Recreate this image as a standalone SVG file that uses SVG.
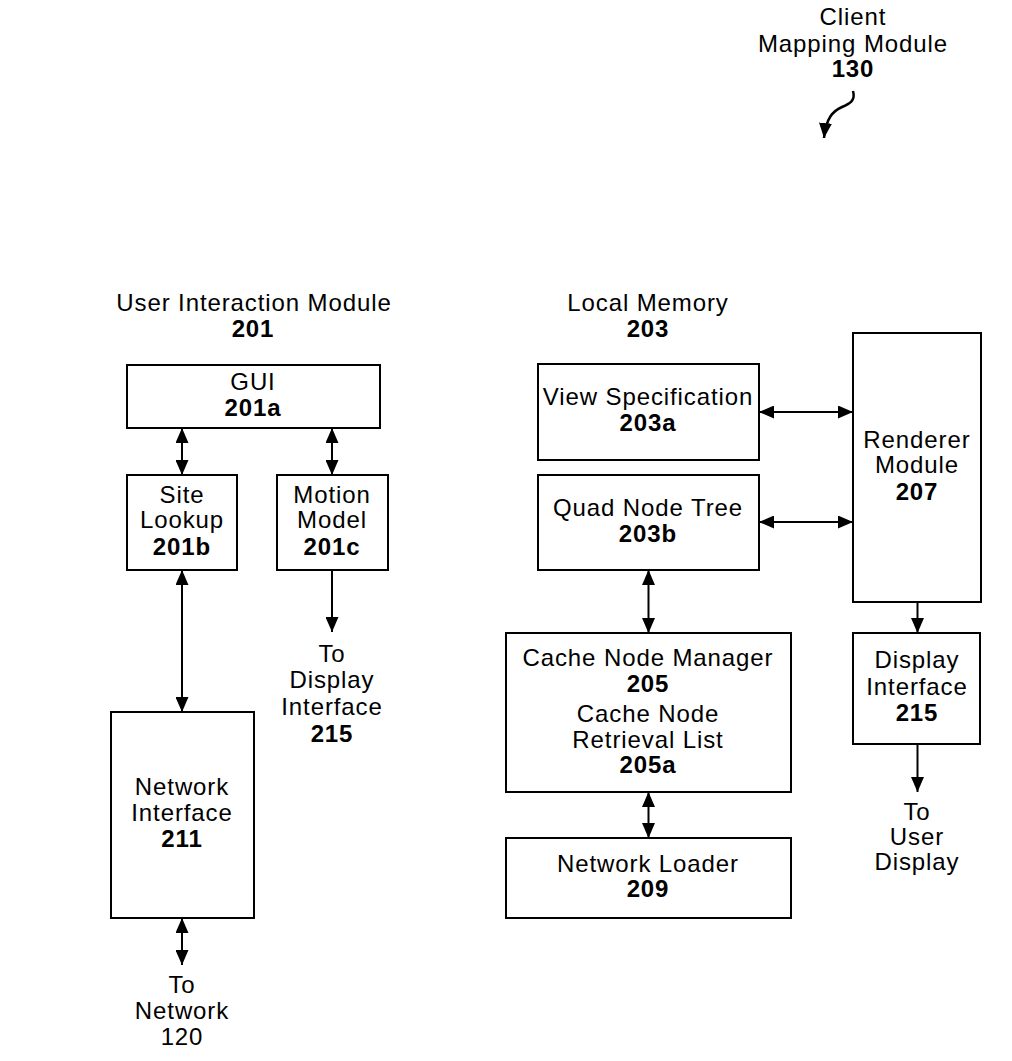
<svg xmlns="http://www.w3.org/2000/svg" width="1012" height="1061" viewBox="0 0 1012 1061">
<style>
text{font-family:"Liberation Sans",Arial,sans-serif;font-size:24px;letter-spacing:0.9px;fill:#000;text-anchor:middle}
.b{font-weight:bold}
.box{fill:#fff;stroke:#000;stroke-width:2}
.c{fill:none;stroke:#000;stroke-width:2}
</style>
<defs>
<marker id="ah" markerUnits="userSpaceOnUse" markerWidth="15" markerHeight="13" refX="15" refY="6.5" orient="auto-start-reverse" viewBox="0 0 15 13">
<path d="M0,0 L15,6.5 L0,13 Z" fill="#000"/>
</marker>
</defs>
<rect width="1012" height="1061" fill="#fff"/>

<g id="title">
<text x="853" y="25">Client</text>
<text x="853" y="52">Mapping Module</text>
<text class="b" x="853" y="77">130</text>
</g>

<g id="labels">
<text x="254" y="311">User Interaction Module</text>
<text class="b" x="253" y="337">201</text>
<text x="648" y="311">Local Memory</text>
<text class="b" x="648" y="337">203</text>
</g>

<g id="gui">
<rect class="box" x="127" y="365" width="253" height="63"/>
<text x="253" y="390">GUI</text>
<text class="b" x="253" y="416">201a</text>
</g>
<g id="site-lookup">
<rect class="box" x="127" y="475" width="110" height="95"/>
<text x="182" y="503">Site</text>
<text x="182" y="528">Lookup</text>
<text class="b" x="182" y="555">201b</text>
</g>
<g id="motion-model">
<rect class="box" x="277" y="475" width="111" height="95"/>
<text x="332" y="503">Motion</text>
<text x="332" y="528">Model</text>
<text class="b" x="332" y="555">201c</text>
</g>
<g id="to-display-interface">
<text x="332" y="662">To</text>
<text x="332" y="688">Display</text>
<text x="332" y="715">Interface</text>
<text class="b" x="332" y="742">215</text>
</g>
<g id="network-interface">
<rect class="box" x="111" y="712" width="143" height="206"/>
<text x="182" y="795">Network</text>
<text x="182" y="821">Interface</text>
<text class="b" x="182" y="847">211</text>
</g>
<g id="to-network">
<text x="182" y="993">To</text>
<text x="182" y="1019">Network</text>
<text x="182" y="1045">120</text>
</g>

<g id="view-specification">
<rect class="box" x="538" y="364" width="221" height="96"/>
<text x="648" y="405">View Specification</text>
<text class="b" x="648" y="431">203a</text>
</g>
<g id="quad-node-tree">
<rect class="box" x="538" y="475" width="221" height="95"/>
<text x="648" y="516">Quad Node Tree</text>
<text class="b" x="648" y="542">203b</text>
</g>
<g id="renderer-module">
<rect class="box" x="853" y="333" width="128" height="269"/>
<text x="917" y="448">Renderer</text>
<text x="917" y="473">Module</text>
<text class="b" x="917" y="500">207</text>
</g>
<g id="cache-node-manager">
<rect class="box" x="506" y="633" width="285" height="159"/>
<text x="648" y="666">Cache Node Manager</text>
<text class="b" x="648" y="692">205</text>
<text x="648" y="722">Cache Node</text>
<text x="648" y="748">Retrieval List</text>
<text class="b" x="648" y="773">205a</text>
</g>
<g id="network-loader">
<rect class="box" x="506" y="838" width="285" height="80"/>
<text x="648" y="872">Network Loader</text>
<text class="b" x="648" y="897">209</text>
</g>
<g id="display-interface">
<rect class="box" x="853" y="633" width="127" height="111"/>
<text x="917" y="668">Display</text>
<text x="917" y="695">Interface</text>
<text class="b" x="917" y="721">215</text>
</g>
<g id="to-user-display">
<text x="917" y="820">To</text>
<text x="917" y="845">User</text>
<text x="917" y="870">Display</text>
</g>

<g id="connectors">
<path class="c" style="stroke-width:2.5" d="M853,91 C856,101 849,104 842,107 C833,111 826,118 824,138" marker-end="url(#ah)"/>
<line class="c" x1="182" y1="428" x2="182" y2="475" marker-start="url(#ah)" marker-end="url(#ah)"/>
<line class="c" x1="332" y1="428" x2="332" y2="475" marker-start="url(#ah)" marker-end="url(#ah)"/>
<line class="c" x1="182" y1="570" x2="182" y2="712" marker-start="url(#ah)" marker-end="url(#ah)"/>
<line class="c" x1="332" y1="570" x2="332" y2="632" marker-end="url(#ah)"/>
<line class="c" x1="182" y1="918" x2="182" y2="965" marker-start="url(#ah)" marker-end="url(#ah)"/>
<line class="c" x1="759" y1="412" x2="853" y2="412" marker-start="url(#ah)" marker-end="url(#ah)"/>
<line class="c" x1="759" y1="522" x2="853" y2="522" marker-start="url(#ah)" marker-end="url(#ah)"/>
<line class="c" x1="648.5" y1="570" x2="648.5" y2="633" marker-start="url(#ah)" marker-end="url(#ah)"/>
<line class="c" x1="648.5" y1="792" x2="648.5" y2="838" marker-start="url(#ah)" marker-end="url(#ah)"/>
<line class="c" x1="917.5" y1="602" x2="917.5" y2="633" marker-end="url(#ah)"/>
<line class="c" x1="917.5" y1="744" x2="917.5" y2="792" marker-end="url(#ah)"/>
</g>
</svg>
